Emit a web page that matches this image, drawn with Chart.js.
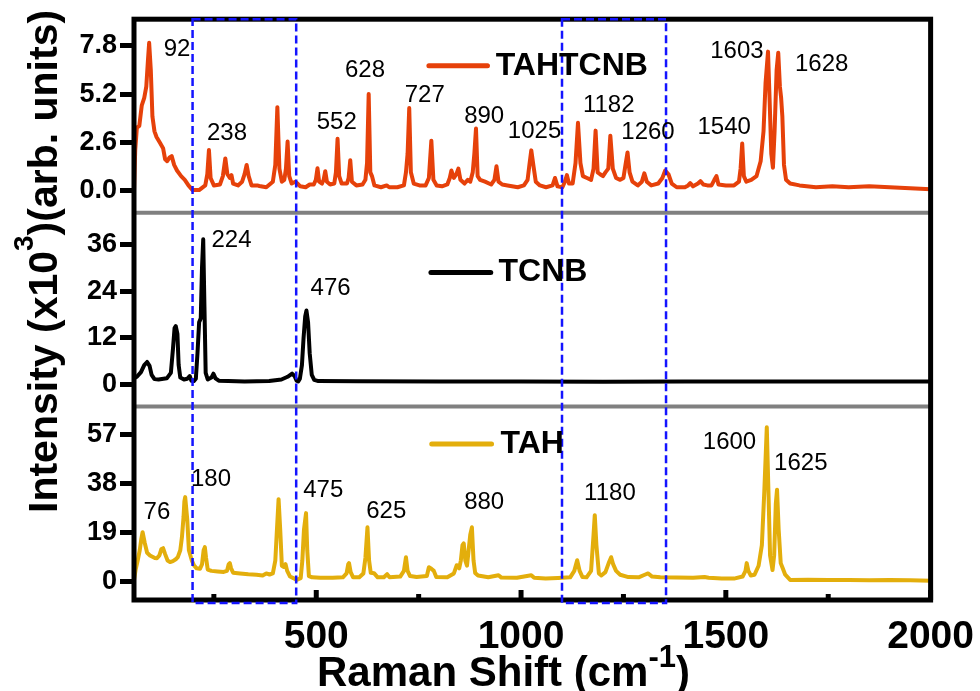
<!DOCTYPE html>
<html>
<head>
<meta charset="utf-8">
<script src="https://cdn.jsdelivr.net/npm/chart.js@4.4.0/dist/chart.umd.min.js"></script>
<style>
  html, body { margin: 0; padding: 0; background: #fff; }
  canvas { display: block; }
</style>
</head>
<body>
<canvas id="raman" width="980" height="691"></canvas>
<script>
// Raman spectra, x in cm-1, intensity in units of 10^3

const seriesNames = ['TAHTCNB', 'TCNB', 'TAH'];

const tahtcnbShift = [
  55, 58, 62, 68, 74, 80, 85, 89, 92, 96, 100, 105, 110, 118, 126, 131, 136, 142, 147, 153,
  160, 170, 179, 188, 198, 214, 229, 234, 238, 242, 250, 265, 272, 278, 283, 289, 293, 297, 309, 319,
  325, 330, 335, 342, 356, 361, 378, 394, 400, 405, 410, 416, 422, 426, 430, 434, 440, 449, 454, 461,
  474, 484, 494, 499, 503, 507, 514, 518, 522, 526, 534, 544, 548, 552, 556, 562, 575, 579, 583, 587,
  598, 613, 620, 624, 628, 632, 636, 642, 658, 672, 678, 698, 714, 719, 723, 727, 731, 738, 752, 767,
  775, 781, 786, 794, 807, 820, 826, 830, 836, 842, 847, 852, 862, 870, 876, 882, 886, 890, 894, 900,
  912, 927, 935, 940, 945, 954, 967, 992, 1007, 1016, 1021, 1025, 1030, 1036, 1046, 1061, 1077, 1083, 1089, 1101,
  1107, 1112, 1117, 1126, 1133, 1139, 1145, 1151, 1161, 1171, 1177, 1182, 1187, 1193, 1200, 1206, 1213, 1218, 1224, 1232,
  1242, 1250, 1255, 1260, 1265, 1272, 1285, 1295, 1301, 1307, 1318, 1335, 1345, 1352, 1360, 1368, 1380, 1400, 1408, 1413,
  1420, 1432, 1438, 1445, 1455, 1465, 1472, 1477, 1482, 1500, 1520, 1532, 1536, 1540, 1544, 1550, 1562, 1575, 1585, 1592,
  1597, 1603, 1607, 1611, 1615, 1619, 1624, 1628, 1632, 1635, 1638, 1642, 1647, 1657, 1680, 1720, 1760, 1800, 1850, 1900,
  1950, 2000
];
const tahtcnbIntensity = [
  0.0, 2.2, 3.4, 3.5, 4.6, 5.0, 5.6, 7.0, 7.95, 6.5, 4.0, 3.2, 2.9, 2.6, 2.3, 1.7, 1.6, 1.8, 1.87, 1.4,
  1.1, 0.8, 0.6, 0.3, 0.05, 0.05, 0.3, 0.9, 2.2, 0.7, 0.3, 0.35, 0.8, 1.75, 0.9, 0.7, 0.85, 0.4, 0.3, 0.5,
  0.9, 1.4, 0.8, 0.3, 0.3, 0.27, 0.2, 0.5, 1.4, 4.5, 1.2, 0.5, 0.6, 1.2, 2.65, 0.8, 0.4, 0.5, 0.4, 0.25,
  0.2, 0.35, 0.35, 0.6, 1.22, 0.5, 0.4, 0.6, 1.06, 0.5, 0.35, 0.4, 1.0, 2.8, 0.8, 0.4, 0.4, 0.7, 1.65, 0.5,
  0.3, 0.35, 0.6, 1.5, 5.2, 1.0, 0.8, 0.3, 0.2, 0.3, 0.2, 0.2, 0.3, 1.0, 2.0, 4.45, 1.0, 0.4, 0.3, 0.3,
  0.7, 2.7, 0.6, 0.3, 0.25, 0.35, 0.7, 1.1, 0.7, 0.9, 1.2, 0.6, 0.4, 0.6, 0.5, 1.0, 2.0, 3.35, 0.8, 0.6,
  0.5, 0.35, 0.6, 1.33, 0.5, 0.35, 0.3, 0.2, 0.3, 0.6, 1.5, 2.18, 1.4, 0.5, 0.3, 0.2, 0.3, 0.7, 0.25, 0.2,
  0.5, 0.85, 0.4, 0.4, 1.5, 3.66, 1.5, 0.8, 0.7, 0.6, 1.2, 3.24, 1.0, 0.9, 0.8, 1.0, 1.2, 2.97, 1.2, 0.7,
  0.6, 0.7, 1.4, 2.07, 1.0, 0.5, 0.3, 0.5, 0.95, 0.5, 0.3, 0.4, 0.7, 1.1, 0.9, 0.4, 0.2, 0.2, 0.3, 0.42,
  0.25, 0.4, 0.53, 0.35, 0.3, 0.3, 0.6, 0.8, 0.35, 0.3, 0.3, 0.5, 1.2, 2.55, 0.8, 0.5, 0.6, 0.8, 1.6, 3.2,
  5.8, 7.48, 4.8, 2.0, 1.25, 3.2, 6.5, 7.42, 5.6, 5.0, 4.0, 1.4, 0.6, 0.4, 0.3, 0.2, 0.25, 0.2, 0.25, 0.2,
  0.15, 0.1
];

const tcnbShift = [
  55, 62, 72, 80, 87, 93, 98, 105, 115, 135, 145, 150, 154, 157, 161, 164, 168, 177, 185, 191,
  195, 201, 206, 210, 214, 218, 221, 224, 227, 230, 235, 244, 249, 254, 262, 285, 325, 385, 415, 430,
  441, 447, 452, 456, 460, 465, 469, 473, 476, 480, 484, 489, 495, 505, 600, 800, 1000, 1200, 1400, 1600,
  1800, 2000
];
const tcnbIntensity = [
  1.6, 2.0, 3.2, 5.0, 5.8, 4.8, 2.5, 1.4, 1.3, 1.6, 3.0, 9.0, 14.5, 15.0, 13.0, 5.0, 1.8, 1.3, 1.5, 2.2,
  1.0, 0.9, 1.5, 8.0, 16.0, 17.0, 30.0, 37.3, 20.0, 3.0, 1.3, 1.8, 2.8, 1.6, 1.0, 0.9, 0.8, 0.9, 1.3, 2.0,
  2.8, 2.2, 1.0, 0.8, 1.5, 5.0, 12.0, 17.5, 19.0, 16.0, 8.0, 2.5, 1.2, 0.9, 0.85, 0.8, 0.8, 0.75, 0.8, 0.8,
  0.8, 0.8
];

const tahShift = [
  55, 59, 64, 69, 73, 76, 81, 87, 94, 100, 106, 111, 117, 122, 126, 131, 137, 143, 150, 157,
  162, 168, 172, 176, 178, 180, 185, 189, 196, 202, 208, 216, 221, 225, 228, 231, 235, 244, 259, 274,
  282, 286, 289, 292, 297, 314, 334, 354, 369, 378, 386, 394, 400, 404, 408, 412, 416, 421, 425, 429,
  436, 444, 452, 462, 466, 470, 475, 478, 482, 490, 510, 540, 565, 574, 578, 580, 584, 590, 605, 615,
  620, 625, 629, 633, 641, 650, 665, 673, 679, 705, 714, 719, 723, 729, 745, 770, 775, 781, 787, 793,
  820, 836, 843, 849, 853, 857, 860, 864, 868, 872, 876, 880, 884, 888, 895, 920, 945, 952, 990, 1025,
  1032, 1060, 1090, 1120, 1130, 1137, 1143, 1150, 1160, 1171, 1177, 1180, 1184, 1190, 1196, 1206, 1214, 1220, 1225, 1232,
  1242, 1262, 1287, 1302, 1310, 1320, 1340, 1380, 1420, 1448, 1458, 1490, 1520, 1541, 1548, 1551, 1555, 1561, 1570, 1580,
  1588, 1594, 1600, 1604, 1608, 1614, 1618, 1622, 1625, 1629, 1634, 1638, 1645, 1657, 1700, 1750, 1800, 1850, 1900, 1950,
  2000
];
const tahIntensity = [
  0.5, 4.5, 8.0, 12.0, 16.5, 19.0, 15.0, 11.0, 10.0, 9.5, 9.0, 8.9, 10.0, 12.5, 12.8, 10.5, 8.0, 7.4, 7.8, 8.5,
  9.3, 12.0, 17.0, 25.0, 31.0, 32.6, 24.0, 12.0, 8.1, 6.0, 5.0, 4.8, 6.5, 12.0, 13.2, 9.0, 4.5, 4.0, 3.8, 3.6,
  4.0, 6.5, 7.0, 5.0, 3.3, 3.0, 2.7, 2.5, 2.2, 3.0, 2.6, 3.0, 8.0, 20.0, 31.8, 20.0, 6.0, 5.5, 6.6, 4.0,
  1.8, 1.2, 0.5, 1.2, 8.0, 20.0, 26.4, 12.0, 2.0, 1.5, 1.3, 1.3, 1.5, 3.0, 6.5, 7.0, 3.5, 1.5, 1.5, 3.0,
  9.0, 20.9, 8.0, 3.3, 3.1, 1.5, 1.5, 2.7, 1.5, 1.8, 4.0, 9.3, 4.0, 2.0, 1.6, 2.0, 5.4, 4.8, 4.0, 1.6,
  1.5, 3.0, 6.2, 5.0, 8.0, 14.0, 14.7, 8.0, 6.0, 12.0, 18.0, 20.9, 8.0, 3.2, 2.2, 1.5, 2.3, 1.4, 1.3, 2.3,
  1.3, 1.0, 1.2, 1.5, 4.0, 8.1, 4.0, 1.6, 1.5, 4.0, 18.0, 25.6, 14.0, 3.0, 2.2, 3.5, 7.0, 9.3, 6.5, 4.0,
  2.5, 1.6, 1.5, 2.5, 3.0, 1.8, 1.5, 1.4, 1.3, 1.6, 1.3, 1.0, 1.0, 1.8, 4.0, 7.0, 4.0, 2.2, 2.5, 6.0,
  14.0, 35.0, 59.7, 35.0, 10.0, 4.3, 10.0, 30.0, 35.5, 20.0, 7.0, 5.4, 2.5, 0.5, 0.6, 0.5, 0.5, 0.4, 0.5, 0.4,
  0.2
];

// tick values
const xTickValues = [500, 1000, 1500, 2000];
const xMinorValues = [250, 750, 1250, 1750];
const topTicks = [0, 2.6, 5.2, 7.8];
const midTicks = [0, 12, 24, 36];
const botTicks = [0, 19, 38, 57];

// shaded regions of interest (cm-1)
const boxRanges = [[198, 451], [1100, 1354]];

// peak tags: wavenumber and where its text is centred (axis units)
const peakTags = [
  { axis: 'yTop', peak: 92,   at: [160, 7.62] },
  { axis: 'yTop', peak: 238,  at: [282, 3.09] },
  { axis: 'yTop', peak: 552,  at: [550, 3.68] },
  { axis: 'yTop', peak: 628,  at: [619, 6.50] },
  { axis: 'yTop', peak: 727,  at: [765, 5.12] },
  { axis: 'yTop', peak: 890,  at: [910, 4.00] },
  { axis: 'yTop', peak: 1025, at: [1033, 3.20] },
  { axis: 'yTop', peak: 1182, at: [1214, 4.58] },
  { axis: 'yTop', peak: 1260, at: [1310, 3.12] },
  { axis: 'yTop', peak: 1540, at: [1496, 3.41] },
  { axis: 'yTop', peak: 1603, at: [1527, 7.49] },
  { axis: 'yTop', peak: 1628, at: [1734, 6.82] },
  { axis: 'yMid', peak: 224,  at: [293, 37.1] },
  { axis: 'yMid', peak: 476,  at: [535, 24.8] },
  { axis: 'yBot', peak: 76,   at: [111, 26.8] },
  { axis: 'yBot', peak: 180,  at: [243, 39.3] },
  { axis: 'yBot', peak: 475,  at: [517, 35.4] },
  { axis: 'yBot', peak: 625,  at: [671, 27.2] },
  { axis: 'yBot', peak: 880,  at: [910, 30.4] },
  { axis: 'yBot', peak: 1180, at: [1217, 33.9] },
  { axis: 'yBot', peak: 1600, at: [1509, 53.9] },
  { axis: 'yBot', peak: 1625, at: [1683, 45.6] }
];

// per-panel legend: line from/to, text start, height (axis units)
const legendSpots = [
  { axis: 'yTop', line: [775, 918], text: 938, y: 6.72 },
  { axis: 'yMid', line: [780, 926], text: 945, y: 28.8 },
  { axis: 'yBot', line: [782, 928], text: 950, y: 53.2 }
];

const colors = ['#E6410A', '#000000', '#E3AE0C'];
const FONT = '"Liberation Sans", Arial, Helvetica, sans-serif';

const toPoints = (xs, ys) => xs.map((x, i) => ({ x: x, y: ys[i] }));

function panelAxis(min, max, ticks, weight, fmt) {
  return {
    type: 'linear',
    position: 'left',
    stack: 'panels',
    stackWeight: 1,
    weight: weight,
    min: min,
    max: max,
    afterBuildTicks: function(scale) {
      scale.ticks = ticks.map(v => ({ value: v }));
    },
    afterFit: function(scale) {
      scale.width = 134;
    },
    border: { display: false },
    grid: {
      drawOnChartArea: false,
      drawTicks: true,
      tickLength: 14,
      tickWidth: 5,
      tickColor: '#000'
    },
    ticks: {
      color: '#000',
      padding: 3,
      font: { family: FONT, size: 27, weight: 'bold' },
      callback: fmt
    }
  };
}

const decorations = {
  id: 'decorations',
  beforeDatasetsDraw(chart) {
    const { ctx, chartArea: a, scales } = chart;
    ctx.save();
    ctx.strokeStyle = '#808080';
    ctx.lineWidth = 4;
    [scales.yTop.bottom, scales.yMid.bottom].forEach(function(y) {
      ctx.beginPath();
      ctx.moveTo(a.left, y);
      ctx.lineTo(a.right, y);
      ctx.stroke();
    });
    ctx.restore();
  },
  afterDatasetsDraw(chart) {
    const { ctx, chartArea: a, scales } = chart;
    const xs = scales.x;
    ctx.save();

    // frame
    ctx.strokeStyle = '#000';
    ctx.lineWidth = 5;
    ctx.strokeRect(a.left, a.top, a.right - a.left, a.bottom - a.top);

    // inward x ticks
    ctx.lineWidth = 5;
    xTickValues.forEach(function(v) {
      const px = xs.getPixelForValue(v);
      ctx.beginPath(); ctx.moveTo(px, a.bottom); ctx.lineTo(px, a.bottom - 10); ctx.stroke();
    });
    xMinorValues.forEach(function(v) {
      const px = xs.getPixelForValue(v);
      ctx.beginPath(); ctx.moveTo(px, a.bottom); ctx.lineTo(px, a.bottom - 6); ctx.stroke();
    });

    // dashed regions
    ctx.strokeStyle = '#1414FF';
    ctx.lineWidth = 2.5;
    ctx.setLineDash([8, 4]);
    boxRanges.forEach(function(r) {
      const x0 = xs.getPixelForValue(r[0]);
      const x1 = xs.getPixelForValue(r[1]);
      ctx.strokeRect(x0, a.top, x1 - x0, a.bottom + 3 - a.top);
    });
    ctx.setLineDash([]);

    // peak positions
    ctx.fillStyle = '#000';
    ctx.font = '24px ' + FONT;
    ctx.textAlign = 'center';
    ctx.textBaseline = 'middle';
    peakTags.forEach(function(t) {
      ctx.fillText(String(t.peak), xs.getPixelForValue(t.at[0]), scales[t.axis].getPixelForValue(t.at[1]));
    });

    // legends
    ctx.textAlign = 'left';
    ctx.font = 'bold 32px ' + FONT;
    legendSpots.forEach(function(l, i) {
      const y = scales[l.axis].getPixelForValue(l.y);
      ctx.strokeStyle = colors[i];
      ctx.lineWidth = 5;
      ctx.lineCap = 'round';
      ctx.beginPath();
      ctx.moveTo(xs.getPixelForValue(l.line[0]), y);
      ctx.lineTo(xs.getPixelForValue(l.line[1]), y);
      ctx.stroke();
      ctx.fillStyle = '#000';
      ctx.fillText(seriesNames[i], xs.getPixelForValue(l.text), y);
    });
    ctx.restore();
  },
  afterDraw(chart) {
    const ctx = chart.ctx;
    ctx.save();
    ctx.fillStyle = '#000';
    ctx.textAlign = 'left';
    ctx.textBaseline = 'alphabetic';

    // x title with superscript
    let x = 317;
    const base = 686;
    ctx.font = 'bold 42px ' + FONT;
    ctx.fillText('Raman Shift (cm', x, base);
    x += ctx.measureText('Raman Shift (cm').width;
    ctx.font = 'bold 31px ' + FONT;
    ctx.fillText('-1', x, base - 19);
    x += ctx.measureText('-1').width;
    ctx.font = 'bold 42px ' + FONT;
    ctx.fillText(')', x, base);

    // y title, rotated
    ctx.translate(57, 513);
    ctx.rotate(-Math.PI / 2);
    let t = 0;
    ctx.font = 'bold 41px ' + FONT;
    ctx.fillText('Intensity (x10', t, 0);
    t += ctx.measureText('Intensity (x10').width;
    ctx.font = 'bold 28px ' + FONT;
    ctx.fillText('3', t, -24);
    t += ctx.measureText('3').width;
    ctx.font = 'bold 41px ' + FONT;
    ctx.fillText(')(arb. units)', t, 0);
    ctx.restore();
  }
};

new Chart(document.getElementById('raman'), {
  type: 'line',
  data: {
    datasets: [
      {
        label: seriesNames[0],
        data: toPoints(tahtcnbShift, tahtcnbIntensity),
        yAxisID: 'yTop',
        borderColor: colors[0],
        borderWidth: 4
      },
      {
        label: seriesNames[1],
        data: toPoints(tcnbShift, tcnbIntensity),
        yAxisID: 'yMid',
        borderColor: colors[1],
        borderWidth: 4
      },
      {
        label: seriesNames[2],
        data: toPoints(tahShift, tahIntensity),
        yAxisID: 'yBot',
        borderColor: colors[2],
        borderWidth: 4
      }
    ]
  },
  options: {
    responsive: false,
    animation: false,
    devicePixelRatio: 1,
    elements: {
      point: { radius: 0 },
      line: { tension: 0, borderJoinStyle: 'round', borderCapStyle: 'round' }
    },
    layout: { padding: { top: 15, right: 47, bottom: 0, left: 0 } },
    plugins: {
      legend: { display: false },
      tooltip: { enabled: false }
    },
    scales: {
      x: {
        type: 'linear',
        position: 'bottom',
        min: 55,
        max: 2000,
        afterBuildTicks: function(scale) {
          scale.ticks = xTickValues.map(v => ({ value: v }));
        },
        afterFit: function(scale) {
          scale.height = 91;
        },
        border: { display: false },
        grid: { display: false },
        ticks: {
          color: '#000',
          padding: 6,
          maxRotation: 0,
          font: { family: FONT, size: 39, weight: 'bold' },
          callback: v => String(v)
        }
      },
      yBot: panelAxis(-7.3, 67.8, botTicks, 1, v => String(v)),
      yMid: panelAxis(-5.6, 44.1, midTicks, 2, v => String(v)),
      yTop: panelAxis(-1.17, 9.22, topTicks, 3, v => v.toFixed(1))
    }
  },
  plugins: [decorations]
});
</script>
</body>
</html>
